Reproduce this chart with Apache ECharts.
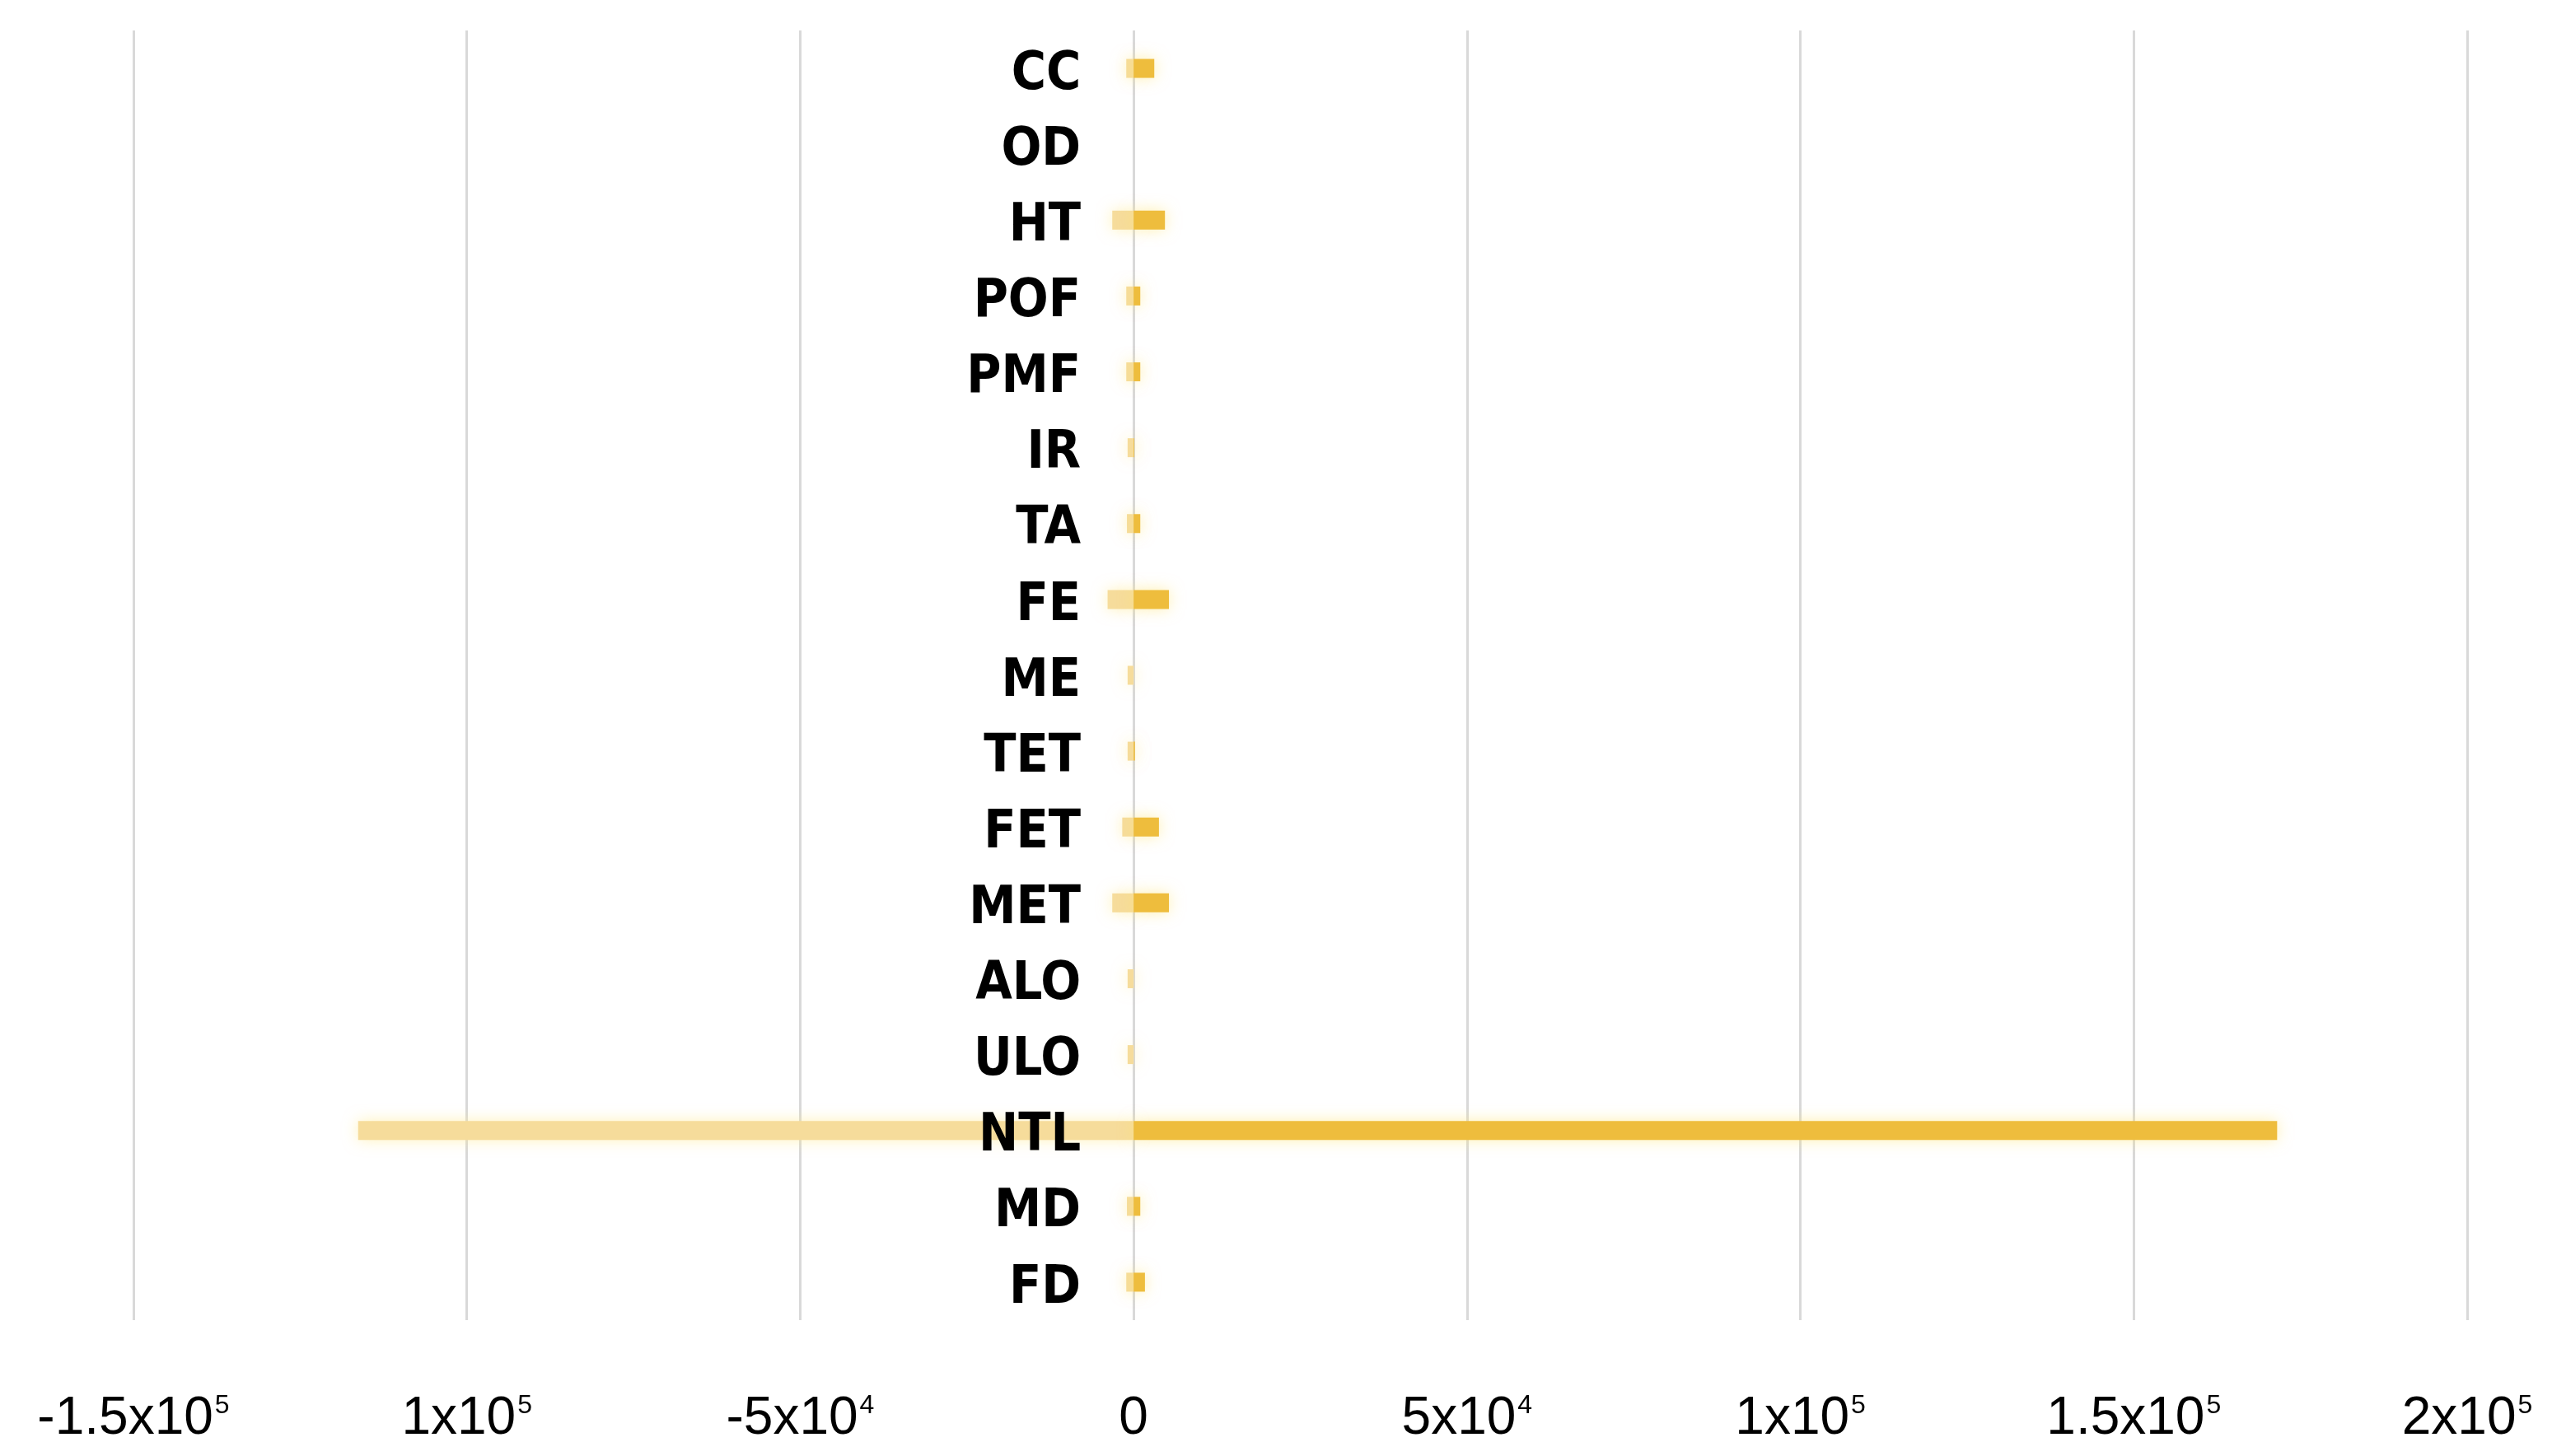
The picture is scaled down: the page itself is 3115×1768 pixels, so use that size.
<!DOCTYPE html>
<html>
<head>
<meta charset="utf-8">
<script src="https://cdn.jsdelivr.net/npm/echarts@6.0.0/dist/echarts.min.js"></script>
<style>
  html, body { margin: 0; padding: 0; background: #fff; }
  #barChart { width: 3115px; height: 1768px; }
</style>
</head>
<body>
<div id="barChart"></div>
<script>
// categories, top to bottom
const categories = ['CC', 'OD', 'HT', 'POF', 'PMF', 'IR', 'TA', 'FE', 'ME', 'TET', 'FET', 'MET', 'ALO', 'ULO', 'NTL', 'MD', 'FD']

// negative part (light) and positive part (gold)
const negValues = [-1100, 0, -3200, -1100, -1100, -900, -1000, -3900, -900, -900, -1700, -3200, -900, -900, -116300, -1000, -1100]
const posValues = [3100, 0, 4700, 1000, 1000, 100, 1000, 5300, 0, 200, 3800, 5300, 0, 0, 171500, 1000, 1700]

// x tick labels: mantissa + power of ten (as printed in the figure)
const tickMantissa = ['-1.5', '1', '-5', '0', '5', '1', '1.5', '2']
const tickExponent = ['5', '5', '4', '', '4', '5', '5', '5']

function drawBar() {
  const chartDom = document.getElementById('barChart')
  const myChart = echarts.init(chartDom)
  const xMin = -150000
  const xStep = 50000
  var option

  option = {
    backgroundColor: '#ffffff',
    animation: false,
    grid: {
      left: 162,
      right: 120,
      top: 37,
      bottom: 165,
      containLabel: false,
      outerBoundsMode: 'none',
    },
    xAxis: {
      type: 'value',
      min: xMin,
      max: 200000,
      interval: xStep,
      axisLine: { show: false },
      axisTick: { show: false },
      splitLine: {
        show: true,
        lineStyle: { color: '#d9d9d9', width: 3 },
      },
      axisLabel: {
        margin: 88,
        formatter: function (v) {
          const i = Math.round((v - xMin) / xStep)
          if (!tickExponent[i]) return '{m|' + tickMantissa[i] + '}'
          return '{m|' + tickMantissa[i] + 'x10}{e|' + tickExponent[i] + '}'
        },
        rich: {
          m: {
            fontFamily: 'Liberation Sans',
            fontSize: 64,
            color: '#000',
          },
          e: {
            fontFamily: 'Liberation Sans',
            fontSize: 32,
            color: '#000',
            verticalAlign: 'top',
            padding: [0, 0, 0, 2],
          },
        },
      },
    },
    yAxis: {
      type: 'category',
      inverse: true,
      data: categories,
      axisLine: { show: false },
      axisTick: { show: false },
      splitLine: { show: false },
      axisLabel: { show: false },
    },
    series: [
      {
        name: 'negative',
        type: 'bar',
        data: negValues,
        barWidth: 23,
        barGap: '-100%',
        itemStyle: {
          color: '#f6dc9b',
          shadowBlur: 18,
          shadowColor: 'rgba(255, 232, 130, 0.55)',
        },
      },
      {
        name: 'positive',
        type: 'bar',
        data: posValues,
        barWidth: 23,
        barGap: '-100%',
        itemStyle: {
          color: '#eebd3d',
          shadowBlur: 18,
          shadowColor: 'rgba(255, 228, 110, 0.55)',
        },
      },
      // category names sit just left of x = 0 (zero-length bars carry them)
      {
        name: 'names',
        type: 'bar',
        data: categories.map(() => 0),
        barWidth: 23,
        barGap: '-100%',
        silent: true,
        itemStyle: { color: 'rgba(0,0,0,0)' },
        label: {
          show: true,
          position: 'left',
          distance: 64,
          offset: [0, 8],
          formatter: '{b}',
          fontFamily: "'Liberation Sans Narrow', 'DejaVu Sans Condensed', 'Liberation Sans'",
          fontWeight: 'bold',
          fontSize: 64,
          color: '#000',
        },
      },
    ],
  }

  option && myChart.setOption(option)
}

drawBar()
</script>
</body>
</html>
